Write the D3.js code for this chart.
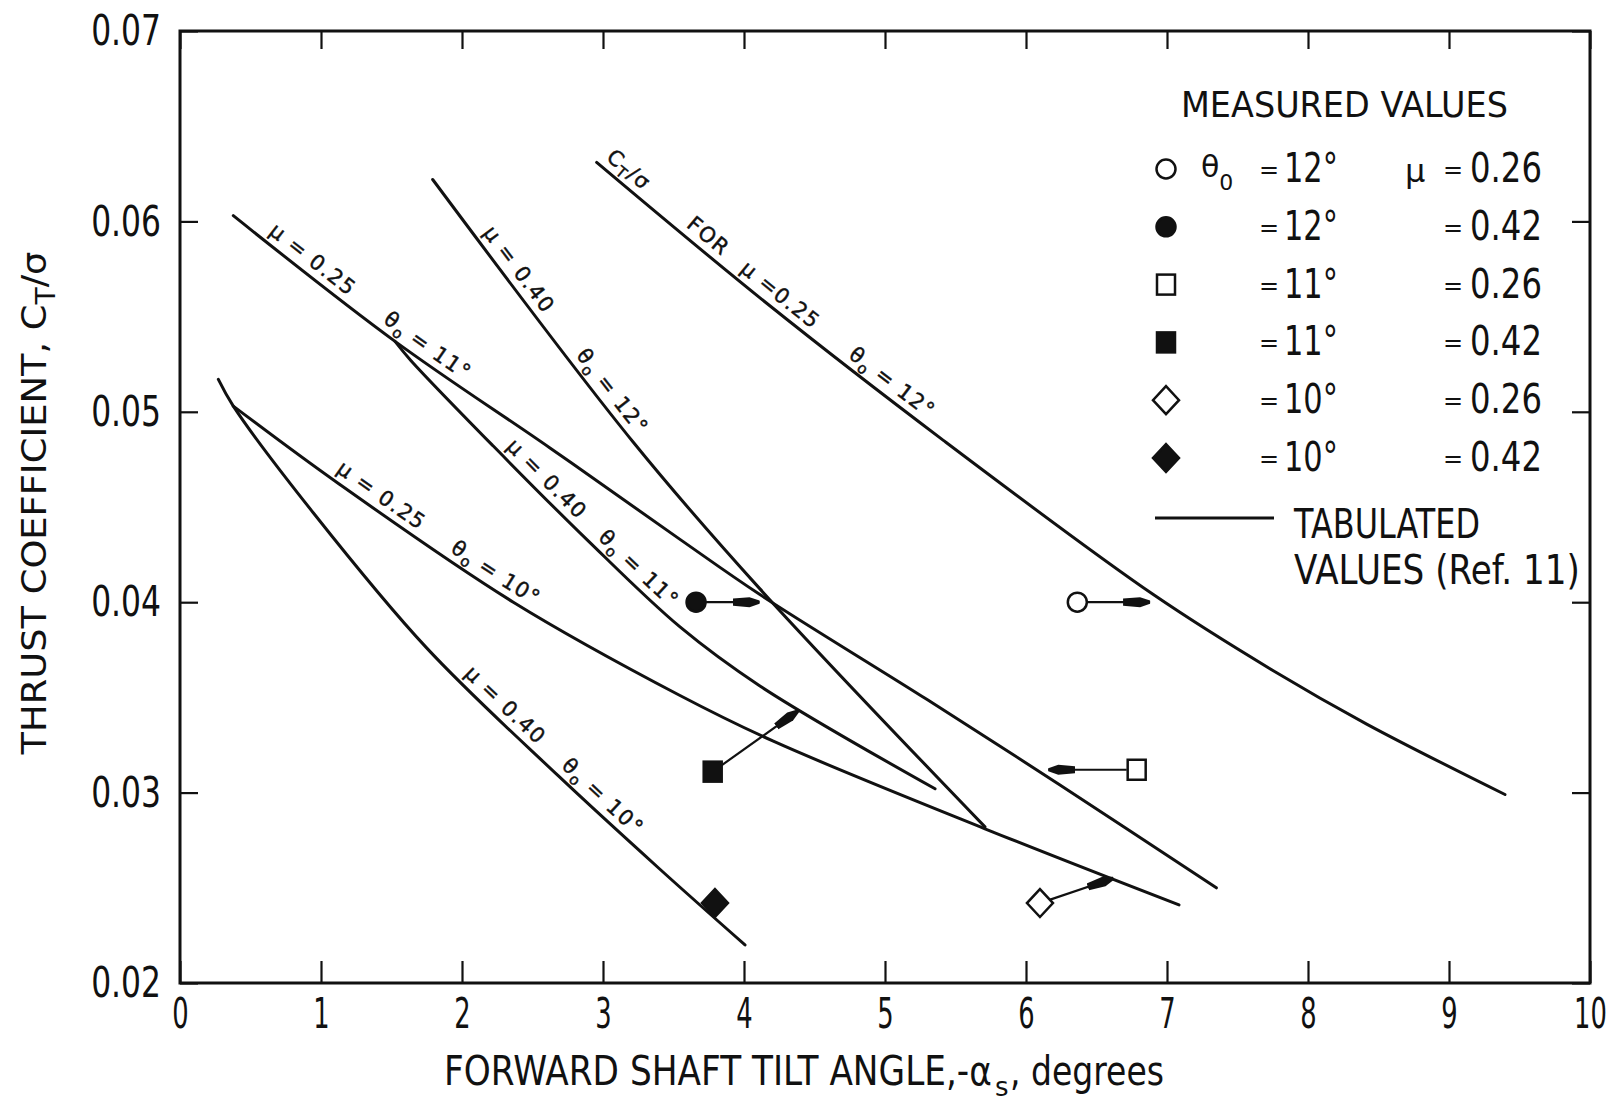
<!DOCTYPE html>
<html>
<head>
<meta charset="utf-8">
<script src="https://cdn.jsdelivr.net/npm/d3@7"></script>
<style>
  html, body { margin: 0; padding: 0; background: #fff; overflow: hidden; }
  svg { display: block; }
  text { font-family: "DejaVu Sans", sans-serif; fill: #111; }
</style>
</head>
<body>
<div id="chart"></div>
<script>
// Axis ticks
let xTicks = [0, 1, 2, 3, 4, 5, 6, 7, 8, 9, 10];
let yTicks = [0.02, 0.03, 0.04, 0.05, 0.06, 0.07];

// Tabulated curves (Ref. 11): [forward shaft tilt, CT/sigma]
let mu25theta12 = [[2.955, 0.0631], [4.161, 0.0557], [5.414, 0.0485], [6.903, 0.0404], [7.754, 0.0364], [8.416, 0.0336], [9.397, 0.0299]];
let mu25theta11 = [[0.378, 0.0603], [1.525, 0.0537], [2.624, 0.0481], [3.546, 0.0433], [4.113, 0.0404], [5.296, 0.0349], [6.241, 0.0304], [7.35, 0.0250]];
let mu40theta11 = [[1.525, 0.0537], [1.637, 0.0527], [2.222, 0.0482], [2.884, 0.0433], [3.546, 0.0387], [4.113, 0.0356], [5.355, 0.0302]];
let mu40theta12 = [[1.792, 0.0622], [3.215, 0.0484], [4.113, 0.0407], [5.709, 0.0282]];
let mu25theta10 = [[0.378, 0.0503], [1.111, 0.0463], [2.364, 0.0400], [3.546, 0.0351], [4.208, 0.0327], [5.709, 0.0281], [7.085, 0.0241]];
let mu40theta10 = [[0.272, 0.0517], [0.378, 0.0503], [0.945, 0.0447], [1.749, 0.0376], [2.68, 0.0309], [3.40, 0.0260], [4.007, 0.0220]];

// Labels written along each curve: [x where label starts, text], "_" marks a subscript char
let labelsA = [[2.98, "C_T/σ"], [3.55, "FOR"], [3.93, "μ =0.25"], [4.70, "θ_o = 12°"]];
let labelsB = [[0.59, "μ = 0.25"], [1.40, "θ_o = 11°"]];
let labelsC = [[2.27, "μ = 0.40"], [2.92, "θ_o = 11°"]];
let labelsD = [[2.10, "μ = 0.40"], [2.76, "θ_o = 12°"]];
let labelsE = [[1.07, "μ = 0.25"], [1.88, "θ_o = 10°"]];
let labelsF = [[1.97, "μ = 0.40"], [2.66, "θ_o = 10°"]];

// Measured values
let pointShape = ["circle", "circle", "square", "square", "diamond", "diamond"];
let pointFilled = [false, true, false, true, false, true];
let pointX = [6.364, 3.66, 6.785, 3.778, 6.099, 3.794];
let pointY = [0.0400, 0.0400, 0.0312, 0.0311, 0.0242, 0.0242];
let arrowX = [6.88, 4.11, 6.158, 4.385, 6.62, null];
let arrowY = [0.0400, 0.0400, 0.0312, 0.0343, 0.0255, null];

// Legend entries
let legendTheta = ["12°", "12°", "11°", "11°", "10°", "10°"];
let legendMu = ["0.26", "0.42", "0.26", "0.42", "0.26", "0.42"];

let width = 1612;
let height = 1103;
let ink = "#111";

let svg = d3.select("#chart").append("svg")
  .attr("width", width)
  .attr("height", height);

svg.append("rect")
  .attr("width", width)
  .attr("height", height)
  .attr("fill", "#fff");

// Scales
let x = d3.scaleLinear().domain([0, 10]).range([180, 1590]);
let y = d3.scaleLinear().domain([0.02, 0.07]).range([983, 31]);

// Narrow the lettering horizontally about its anchor (the original type is condensed)
function squeeze(sel, k) {
  sel.each(function () {
    let x0 = +this.getAttribute("x") || 0;
    this.setAttribute("transform", `translate(${x0},0) scale(${k},1) translate(${-x0},0)`);
  });
}
function fitWidth(sel, w) {
  sel.each(function () {
    squeeze(d3.select(this), w / this.getComputedTextLength());
  });
}

// Arrowhead
svg.append("defs").append("marker")
  .attr("id", "head")
  .attr("markerUnits", "userSpaceOnUse")
  .attr("viewBox", "0 -6 28 12")
  .attr("refX", 27)
  .attr("refY", 0)
  .attr("markerWidth", 28)
  .attr("markerHeight", 12)
  .attr("orient", "auto")
  .append("path")
  .attr("d", "M0,-3.6 L17,-5 L27,-1.6 L27,1.6 L17,5 L0,3.6 Z")
  .attr("fill", ink);

// Axes with inward ticks
let gx = svg.append("g")
  .attr("transform", `translate(0,${y(0.02)})`)
  .call(d3.axisBottom(x).tickValues(xTicks).tickFormat(d3.format("d"))
    .tickSizeInner(-22).tickSizeOuter(0).tickPadding(14));
gx.selectAll(".tick text").attr("font-size", 43).attr("fill", ink);
squeeze(gx.selectAll(".tick text"), 0.6);

let gxTop = svg.append("g")
  .attr("transform", `translate(0,${y(0.07)})`)
  .call(d3.axisTop(x).tickValues(xTicks).tickFormat("")
    .tickSizeInner(-18).tickSizeOuter(0));

let gy = svg.append("g")
  .attr("transform", `translate(${x(0)},0)`)
  .call(d3.axisLeft(y).tickValues(yTicks).tickFormat(d3.format(".2f"))
    .tickSizeInner(-18).tickSizeOuter(0).tickPadding(19));
gy.selectAll(".tick text").attr("font-size", 43).attr("fill", ink);
squeeze(gy.selectAll(".tick text"), 0.73);

let gyRight = svg.append("g")
  .attr("transform", `translate(${x(10)},0)`)
  .call(d3.axisRight(y).tickValues(yTicks).tickFormat("")
    .tickSizeInner(-18).tickSizeOuter(0));

[gx, gxTop, gy, gyRight].forEach(g => {
  g.select(".domain").remove();
  g.selectAll(".tick line").attr("stroke", ink).attr("stroke-width", 2.2);
});

// Plot frame
svg.append("rect")
  .attr("x", x(0))
  .attr("y", y(0.07))
  .attr("width", x(10) - x(0))
  .attr("height", y(0.02) - y(0.07))
  .attr("fill", "none")
  .attr("stroke", ink)
  .attr("stroke-width", 3);

// Axis titles
let xt1 = svg.append("text").attr("x", 444).attr("y", 1085).attr("font-size", 40)
  .text("FORWARD SHAFT TILT ANGLE,-α");
fitWidth(xt1, 548);
svg.append("text").attr("x", 995).attr("y", 1096).attr("font-size", 26).text("s");
let xt3 = svg.append("text").attr("x", 1010).attr("y", 1085).attr("font-size", 40)
  .text(", degrees");
fitWidth(xt3, 154);

let yTitle = svg.append("text")
  .attr("text-anchor", "middle")
  .attr("font-size", 34);
yTitle.append("tspan").text("THRUST COEFFICIENT, C");
yTitle.append("tspan").attr("dy", 9).attr("font-size", 26).text("T");
yTitle.append("tspan").attr("dy", -9).text("/σ");
let kY = 503 / yTitle.node().getComputedTextLength();
yTitle.attr("transform", `translate(46,503) rotate(-90) scale(${kY},1)`);

// Tabulated curves
let line = d3.line()
  .x(d => x(d[0]))
  .y(d => y(d[1]))
  .curve(d3.curveCatmullRom.alpha(0.5));

let curves = [
  { id: "cA", data: mu25theta12, labels: labelsA },
  { id: "cB", data: mu25theta11, labels: labelsB },
  { id: "cC", data: mu40theta11, labels: labelsC },
  { id: "cD", data: mu40theta12, labels: labelsD },
  { id: "cE", data: mu25theta10, labels: labelsE },
  { id: "cF", data: mu40theta10, labels: labelsF }
];

// path length where the curve reaches a given pixel x
function lengthAtX(node, px) {
  let lo = 0, hi = node.getTotalLength();
  for (let i = 0; i < 40; i++) {
    let mid = (lo + hi) / 2;
    if (node.getPointAtLength(mid).x < px) lo = mid; else hi = mid;
  }
  return lo;
}

curves.forEach(c => {
  let p = svg.append("path")
    .attr("id", c.id)
    .attr("d", line(c.data))
    .attr("fill", "none")
    .attr("stroke", ink)
    .attr("stroke-width", 3)
    .attr("stroke-linecap", "round");

  c.labels.forEach(lab => {
    let tp = svg.append("text")
      .attr("font-size", 21)
      .attr("letter-spacing", 1.5)
      .attr("stroke", ink)
      .attr("stroke-width", 0.45)
      .append("textPath")
      .attr("href", "#" + c.id)
      .attr("startOffset", lengthAtX(p.node(), x(lab[0])));
    let parts = lab[1].split(/_(.)/);
    parts.forEach((s, i) => {
      let t = tp.append("tspan").text(s);
      if (i === 0) t.attr("dy", -8);
      else if (i % 2 === 1) t.attr("dy", 5).attr("font-size", 15);
      else t.attr("dy", -5);
    });
  });
});

// Marker symbols
function drawMarker(g, shape, filled, cx, cy) {
  let fill = filled ? ink : "#fff";
  let m;
  if (shape === "circle") {
    m = g.append("circle").attr("cx", cx).attr("cy", cy).attr("r", 9.5);
  } else if (shape === "square") {
    m = g.append("rect").attr("x", cx - 9).attr("y", cy - 10).attr("width", 18).attr("height", 20);
  } else {
    m = g.append("path").attr("d", `M${cx},${cy - 14}L${cx + 13},${cy}L${cx},${cy + 14}L${cx - 13},${cy}Z`);
  }
  m.attr("fill", fill).attr("stroke", ink).attr("stroke-width", 2.5);
}

// Measured points with arrows to the tabulated curve
let pts = svg.append("g");
pointX.forEach((px, i) => {
  let cx = x(px), cy = y(pointY[i]);
  if (arrowX[i] !== null) {
    let ex = x(arrowX[i]), ey = y(arrowY[i]);
    let len = Math.hypot(ex - cx, ey - cy);
    pts.append("line")
      .attr("x1", cx + (ex - cx) / len * 10)
      .attr("y1", cy + (ey - cy) / len * 10)
      .attr("x2", ex)
      .attr("y2", ey)
      .attr("stroke", ink)
      .attr("stroke-width", 2.2)
      .attr("marker-end", "url(#head)");
  }
  drawMarker(pts, pointShape[i], pointFilled[i], cx, cy);
});

// Legend
let legend = svg.append("g");
let head = legend.append("text")
  .attr("x", 1181)
  .attr("y", 117)
  .attr("font-size", 36)
  .text("MEASURED VALUES");
fitWidth(head, 327);

legendTheta.forEach((th, i) => {
  let by = 182 + i * 57.8;
  drawMarker(legend, pointShape[i], pointFilled[i], 1166, by - 13);
  if (i === 0) {
    let t = legend.append("text").attr("x", 1201).attr("y", by - 5).attr("font-size", 30);
    t.append("tspan").text("θ");
    t.append("tspan").attr("dy", 13).attr("font-size", 22).text("0");
    legend.append("text").attr("x", 1405).attr("y", by).attr("font-size", 32).text("μ");
  }
  legend.append("text").attr("x", 1259).attr("y", by - 4).attr("font-size", 24).text("=");
  let tv = legend.append("text").attr("x", 1284).attr("y", by).attr("font-size", 40).text(th);
  fitWidth(tv, 54);
  legend.append("text").attr("x", 1443).attr("y", by - 4).attr("font-size", 24).text("=");
  let mv = legend.append("text").attr("x", 1470).attr("y", by).attr("font-size", 40).text(legendMu[i]);
  fitWidth(mv, 72);
});

legend.append("line")
  .attr("x1", 1155)
  .attr("x2", 1274)
  .attr("y1", 518)
  .attr("y2", 518)
  .attr("stroke", ink)
  .attr("stroke-width", 3);

let tab1 = legend.append("text").attr("x", 1294).attr("y", 538).attr("font-size", 40).text("TABULATED");
fitWidth(tab1, 186);
let tab2 = legend.append("text").attr("x", 1294).attr("y", 584).attr("font-size", 40).text("VALUES (Ref. 11)");
fitWidth(tab2, 286);
</script>
</body>
</html>
